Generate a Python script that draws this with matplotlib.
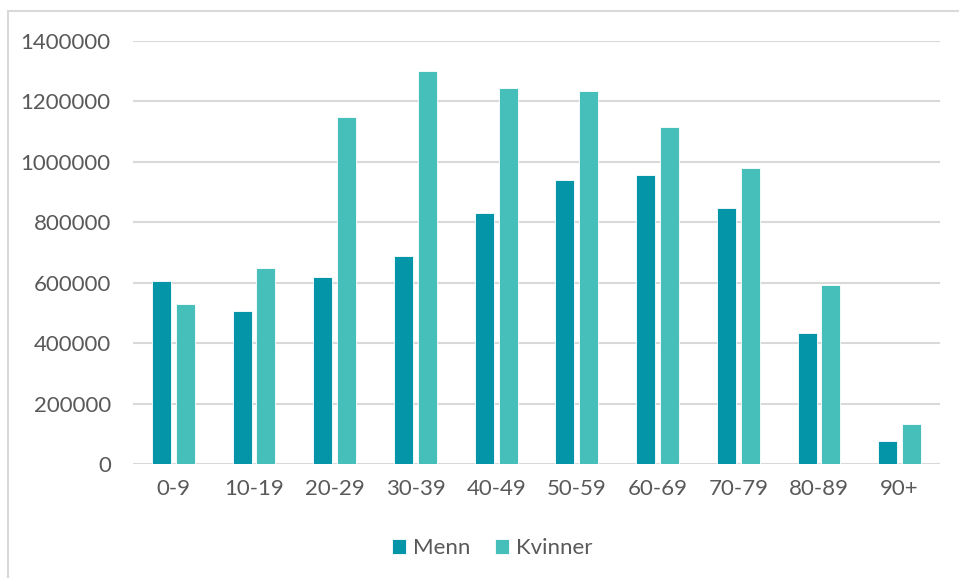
import numpy as np
import matplotlib.pyplot as plt
from matplotlib.patches import Rectangle

aldersgrupper = ["0-9", "10-19", "20-29", "30-39", "40-49", "50-59", "60-69", "70-79", "80-89", "90+"]
menn = [605000, 505000, 620000, 690000, 832000, 941000, 955000, 848000, 435000, 75000]
kvinner = [529000, 650000, 1150000, 1302000, 1246000, 1236000, 1116000, 981000, 594000, 132000]

farge_menn = "#0595A8"
farge_kvinner = "#46BEB9"
tekstfarge = "#595959"

plt.rcParams["font.family"] = ["Lato", "DejaVu Sans"]

fig = plt.figure(figsize=(9.59, 5.78), dpi=100)
ax = fig.add_axes([0.1387, 0.1972, 0.8415, 0.7319])

x = np.arange(len(aldersgrupper))
b = 0.235
ax.bar(x - b / 2 - 0.03, menn, width=b, color=farge_menn, edgecolor="white", linewidth=0.6, label="Menn", zorder=3)
ax.bar(x + b / 2 + 0.03, kvinner, width=b, color=farge_kvinner, edgecolor="white", linewidth=0.6, label="Kvinner", zorder=3)

ax.set_xlim(-0.5, len(aldersgrupper) - 0.5)
ax.set_ylim(0, 1400000)
ax.set_yticks(np.arange(0, 1400001, 200000))
ax.set_yticklabels([str(v) for v in range(0, 1400001, 200000)])
ax.set_xticks(x)
ax.set_xticklabels(aldersgrupper)
ax.tick_params(axis="both", length=0, labelsize=16, colors=tekstfarge)
ax.tick_params(axis="y", pad=16)
ax.tick_params(axis="x", pad=11)
ax.grid(axis="y", color="#d9d9d9", linewidth=1.5, zorder=0)
for s in ax.spines.values():
    s.set_visible(False)

leg = fig.legend(loc="center", bbox_to_anchor=(0.513, 0.052), ncol=2, frameon=False,
                 fontsize=16, handlelength=0.65, handleheight=0.65, handletextpad=0.3,
                 columnspacing=1.1)
for t in leg.get_texts():
    t.set_color(tekstfarge)

# tynn ramme rundt diagrammet
fig.patches.append(Rectangle((8 / 959, -0.05), 1.1, 1 - 11 / 578 + 0.05, transform=fig.transFigure,
                             fill=False, edgecolor="#d9d9d9", linewidth=1.5))

fig.savefig("out.png", dpi=100)
